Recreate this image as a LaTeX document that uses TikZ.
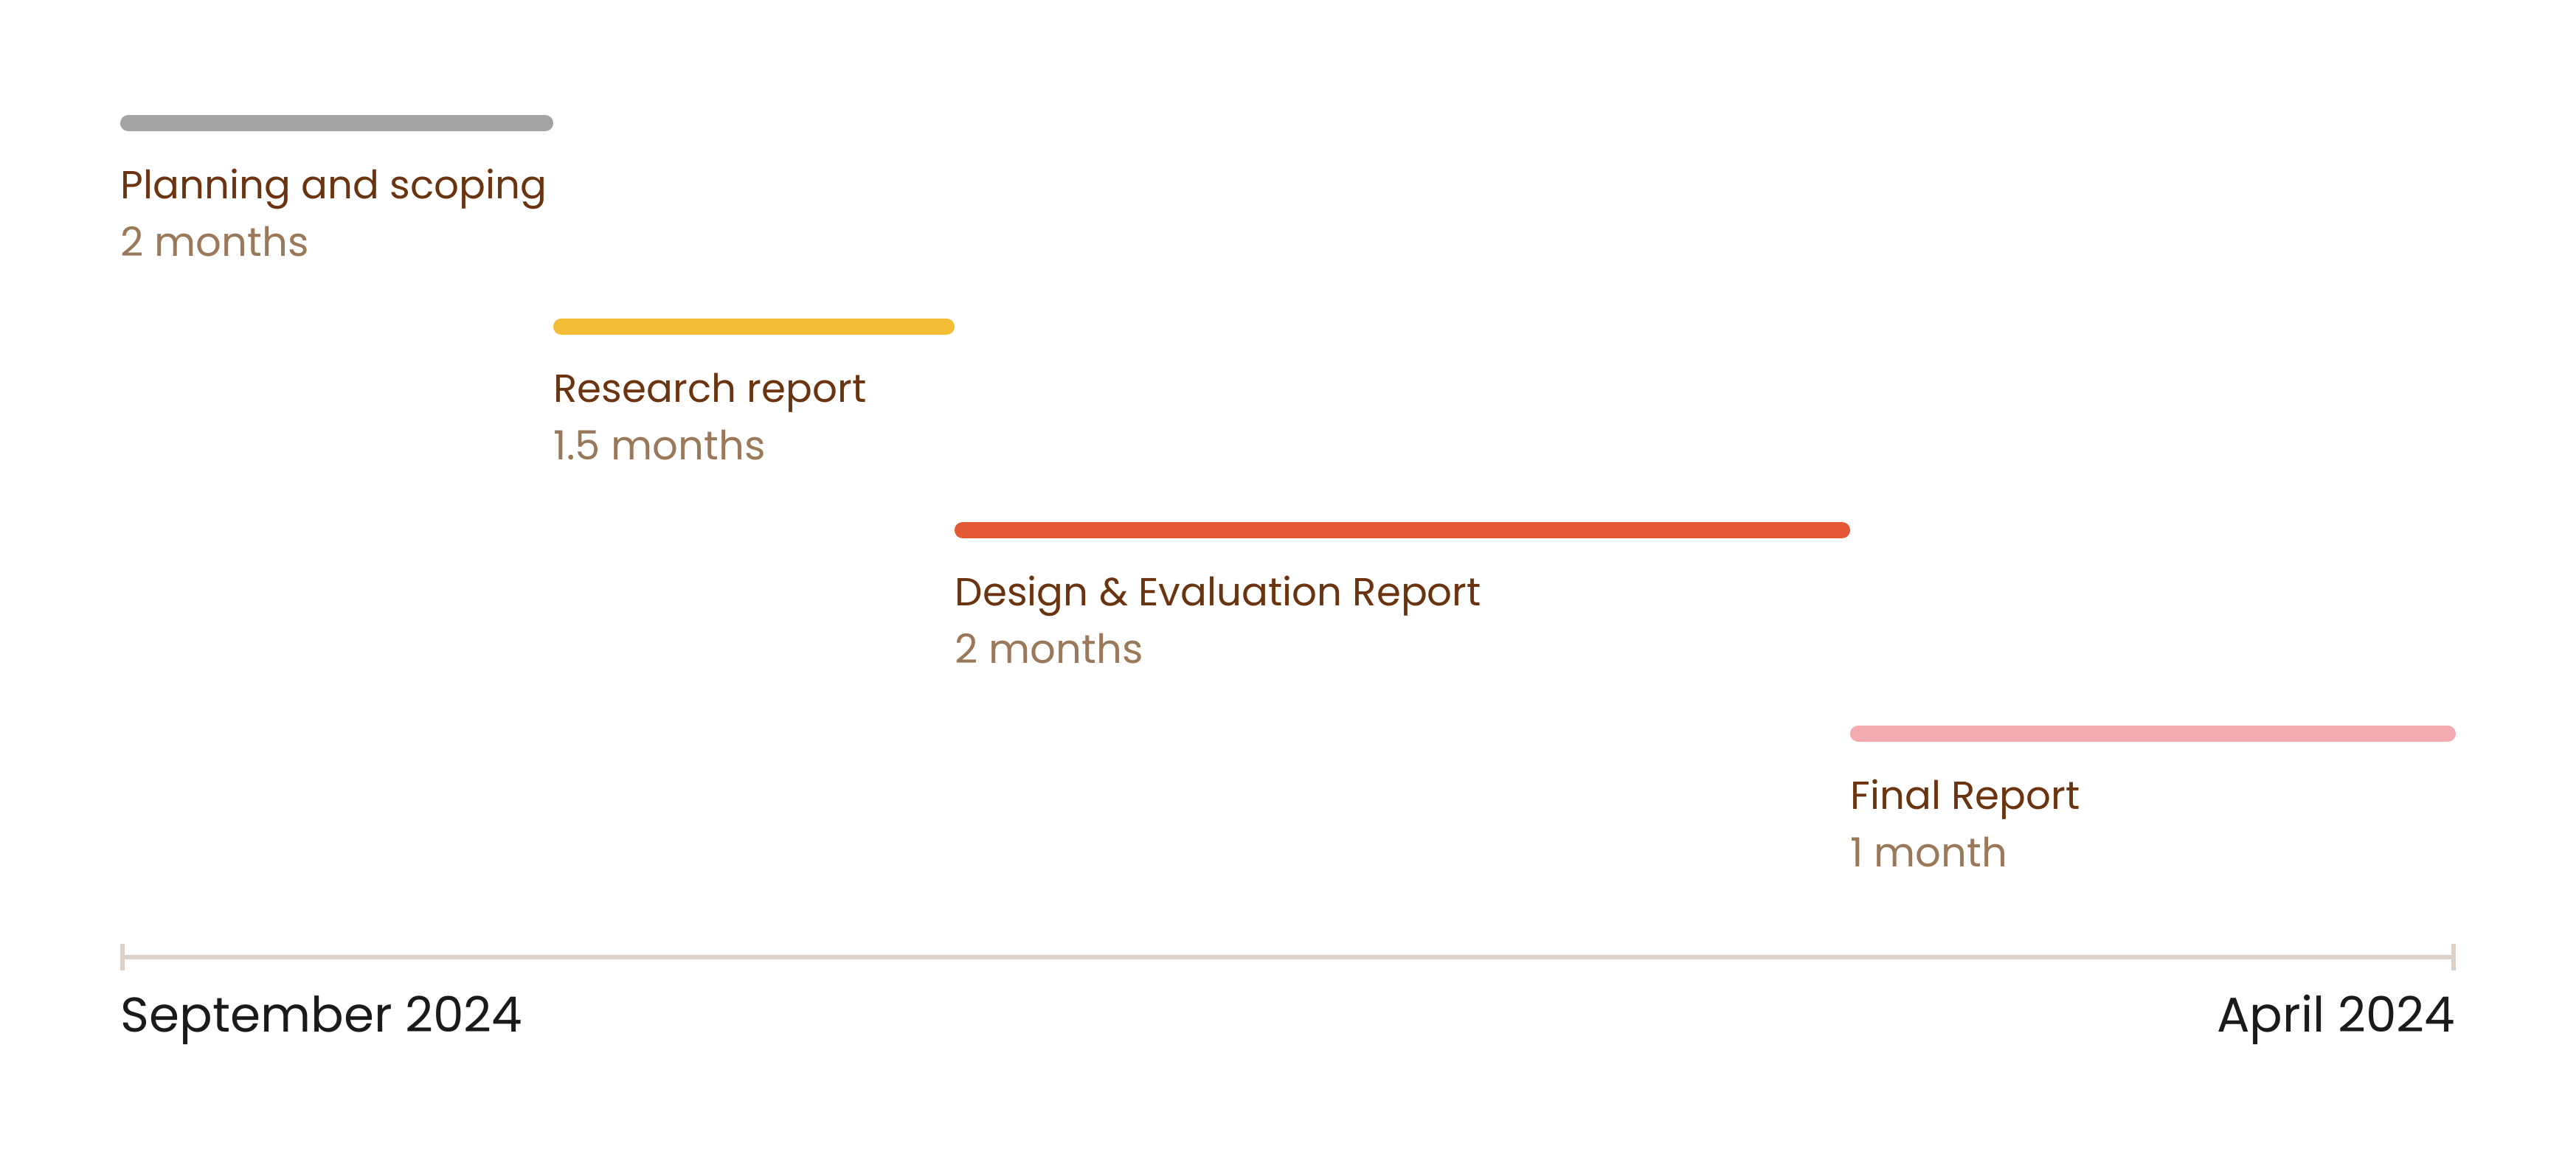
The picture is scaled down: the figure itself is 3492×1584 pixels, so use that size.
\documentclass[tikz,border=0pt]{standalone}
\usepackage{fontspec}
\setmainfont{Poppins}
\usepackage{tikz}
\usetikzlibrary{positioning}
\definecolor{barGray}{HTML}{A4A4A4}
\definecolor{barYellow}{HTML}{F4BD35}
\definecolor{barRed}{HTML}{E45735}
\definecolor{barPink}{HTML}{F4ABB1}
\definecolor{titleBrown}{HTML}{6B3410}
\definecolor{durBrown}{HTML}{9A785A}
\definecolor{axisTan}{HTML}{DDD0C6}
\definecolor{dateBlack}{HTML}{1A1A1A}
\tikzset{
  bar/.style={line width=6.3pt, line cap=round},
  title/.style={text=titleBrown, inner sep=0pt, anchor=base west, font=\fontsize{15.1}{18}\selectfont},
  dur/.style={text=durBrown, inner sep=0pt, anchor=base west, font=\fontsize{15.5}{18}\selectfont},
  datelbl/.style={text=dateBlack, inner sep=0pt, font=\fontsize{18.8}{22}\selectfont},
  axis/.style={axisTan, line width=1.6pt}
}

\begin{document}
\begin{tikzpicture}[x=0.01cm, y=-0.01cm]
  \useasboundingbox[fill=white] (0,0) rectangle (3492,1584);

  % bars
  \coordinate (plan-s) at (174,167);   \coordinate (plan-e) at (739,167);
  \coordinate (res-s)  at (761,443);   \coordinate (res-e)  at (1283,443);
  \coordinate (des-s)  at (1305,719);  \coordinate (des-e)  at (2497,719);
  \coordinate (fin-s)  at (2519,995);  \coordinate (fin-e)  at (3318,995);

  \draw[bar, barGray]   (plan-s) -- (plan-e);
  \draw[bar, barYellow] (res-s)  -- (res-e);
  \draw[bar, barRed]    (des-s)  -- (des-e);
  \draw[bar, barPink]   (fin-s)  -- (fin-e);

  % labels
  \node (plan)     [title] at (163,269)  {Planning and scoping};
  \node (plan-dur) [dur]   at (163,347)  {2 months};
  \node (res)      [title] at (750,545)  {Research report};
  \node (res-dur)  [dur]   at (750,623)  {1.5 months};
  \node (des)      [title] at (1294,821) {Design \& Evaluation Report};
  \node (des-dur)  [dur]   at (1294,899) {2 months};
  \node (fin)      [title] at (2508,1097) {Final Report};
  \node (fin-dur)  [dur]   at (2508,1175) {1 month};

  % time axis
  \coordinate (ax-l) at (166,1298);
  \coordinate (ax-r) at (3326,1298);
  \draw[axis] (ax-l) -- (ax-r);
  \draw[axis] (ax-l) ++(0,-18) -- ++(0,36);
  \draw[axis] (ax-r) ++(0,-18) -- ++(0,36);

  \node (start) [datelbl, anchor=base west] at (163,1399)  {September 2024};
  \node (end)   [datelbl, anchor=base east] at (3329,1399) {April 2024};
\end{tikzpicture}
\end{document}
